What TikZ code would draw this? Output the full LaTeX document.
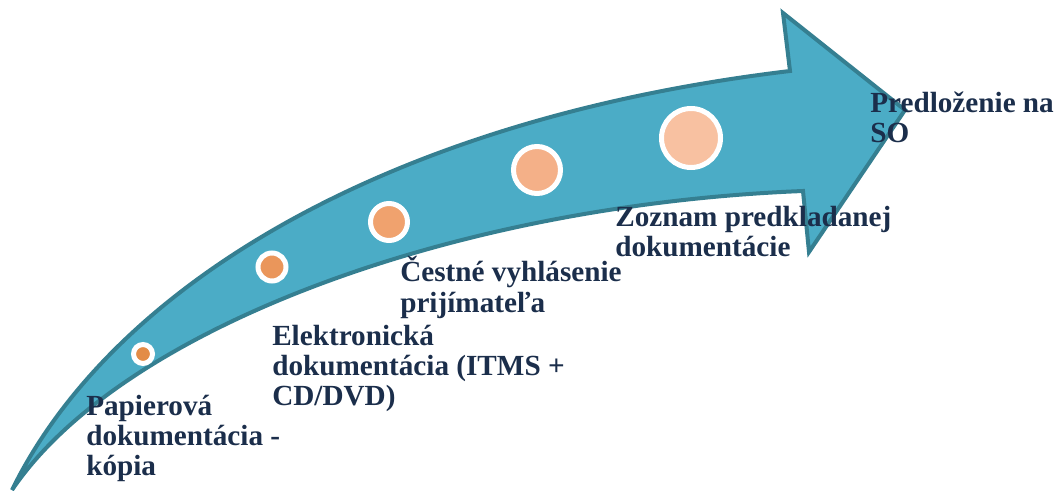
\documentclass[tikz,border=0pt]{standalone}
\usepackage{fontspec}
\setmainfont{Liberation Serif}
\definecolor{arrowfill}{HTML}{4BACC6}
\definecolor{arrowline}{HTML}{357F91}
\definecolor{labeltext}{HTML}{1B2E4B}
\definecolor{dot1}{HTML}{E38C46}
\definecolor{dot2}{HTML}{EA965B}
\definecolor{dot3}{HTML}{F0A26E}
\definecolor{dot4}{HTML}{F4B088}
\definecolor{dot5}{HTML}{F8C1A1}
\begin{document}
\begin{tikzpicture}[x=0.75pt, y=-0.75pt,
  dot/.style = {circle, draw=white, line width=3.75pt, inner sep=0pt},
  lbl/.style = {anchor=base west, align=left, inner sep=0pt, text=labeltext, font=\fontsize{21.9}{22.5}\selectfont\bfseries}]

    \useasboundingbox (0,0) rectangle (1059,491);

    % Arrow
    \draw[arrowline, fill=arrowfill, line width=3pt, line join=miter]
        (12,490) .. controls (110,290) and (380,120) .. (790,71)
        -- (783,13) -- (905,110) -- (809,252) -- (803,191)
        .. controls (450,205) and (120,330) .. cycle;

    % Nodes
    \node[dot, fill=dot1, minimum size=14.25pt] (c1) at (143,354) {};
    \node[dot, fill=dot2, minimum size=21pt] (c2) at (272,267) {};
    \node[dot, fill=dot3, minimum size=27.75pt] (c3) at (389,222) {};
    \node[dot, fill=dot4, minimum size=35.25pt] (c4) at (537,170) {};
    \node[dot, fill=dot5, minimum size=44.25pt] (c5) at (691,138) {};

    % Labels (anchored at the baseline of the last line)
    \node[lbl] (l1) at (86,475) {Papierová\\dokumentácia -\\kópia};
    \node[lbl] (l2) at (272,405) {Elektronická\\dokumentácia (ITMS +\\CD/DVD)};
    \node[lbl] (l3) at (400,312) {Čestné vyhlásenie\\prijímateľa};
    \node[lbl] (l4) at (615,257) {Zoznam predkladanej\\dokumentácie};
    \node[lbl] (l5) at (870,143) {Predloženie na\\SO};
\end{tikzpicture}
\end{document}
